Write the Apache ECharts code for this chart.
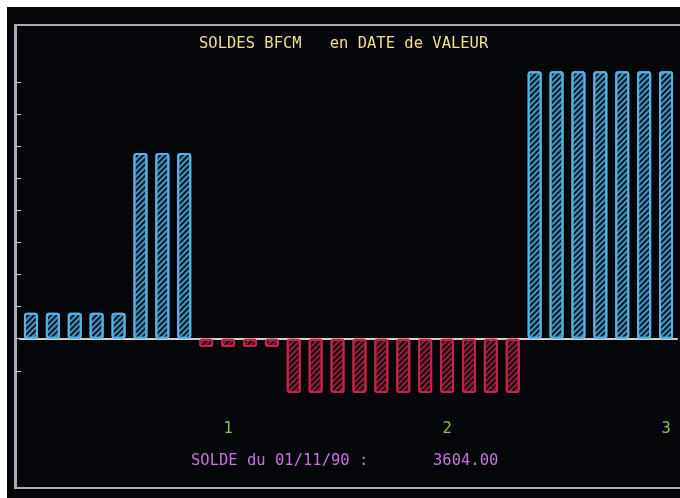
<!DOCTYPE html>
<html>
<head>
<meta charset="utf-8">
<script src="https://cdn.jsdelivr.net/npm/echarts@6/dist/echarts.min.js"></script>
<style>
  html, body { margin: 0; padding: 0; background: #ffffff; }
  #chart { width: 680px; height: 498px; }
</style>
</head>
<body>
<div id="chart"></div>
<script>
// days of the month, one bar per day
const days = ['1', '2', '3', '4', '5', '6', '7', '8', '9', '10',
  '11', '12', '13', '14', '15', '16', '17', '18', '19', '20',
  '21', '22', '23', '24', '25', '26', '27', '28', '29', '30']
// balance per day (francs)
const soldes = [810, 810, 810, 810, 810, 5780, 5780, 5780,
  -260, -260, -260, -260,
  -1690, -1690, -1690, -1690, -1690, -1690, -1690, -1690, -1690, -1690, -1690,
  8330, 8330, 8330, 8330, 8330, 8330, 8330]
// labels under every tenth day
const xTickLabels = ['1', '2', '3']
const yTicks = [-1000, 0, 1000, 2000, 3000, 4000, 5000, 6000, 7000, 8000]
const titleText = 'SOLDES BFCM   en DATE de VALEUR'
const soldeDate = '01/11/90'
const soldeValue = '3604.00'

const credits = soldes.map(v => (v >= 0 ? v : '-'))
const debits = soldes.map(v => (v < 0 ? v : '-'))

const FONT = '"DejaVu Sans Mono", monospace'

const hatch = (color) => ({
  symbol: 'rect',
  symbolSize: 1,
  color,
  dashArrayX: [1, 0],
  dashArrayY: [2, 2],
  rotation: -Math.PI / 4
})

const textStyle = (color) => ({ color, fontFamily: FONT, fontSize: 15.5, fontWeight: 'normal' })

const chart = echarts.init(document.getElementById('chart'))
chart.setOption({
  backgroundColor: '#05060a',
  animation: false,
  title: [
    { text: titleText, left: 199, top: 36, padding: 0, textStyle: textStyle('#f2df8c') },
    { text: 'SOLDE du ' + soldeDate + ' :', left: 191, top: 453, padding: 0, textStyle: textStyle('#c674dc') },
    { text: soldeValue, left: 433, top: 453, padding: 0, textStyle: textStyle('#c674dc') }
  ],
  graphic: [
    { type: 'rect', z: -10, shape: { x: 0, y: 0, width: 7, height: 498 }, style: { fill: '#ffffff' } },
    { type: 'rect', z: -10, shape: { x: 0, y: 0, width: 680, height: 7 }, style: { fill: '#ffffff' } },
    {
      type: 'rect', z: -5,
      shape: { x: 15, y: 25, width: 700, height: 463 },
      style: { fill: 'none', stroke: '#a9abb8', lineWidth: 2 }
    }
  ],
  grid: { left: 20, right: 3, top: 25, bottom: 11 },
  xAxis: [
    {
      type: 'category',
      data: days,
      axisLine: { onZero: true, lineStyle: { color: '#cfcfcf', width: 2 } },
      axisTick: { show: false },
      axisLabel: { show: false }
    },
    {
      type: 'category',
      data: days,
      position: 'bottom',
      offset: -67,
      axisLine: { show: false, onZero: false },
      axisTick: { show: false },
      axisLabel: {
        margin: 1,
        interval: (i) => (i + 1) % 10 === 0,
        formatter: (v, i) => xTickLabels[(i + 1) / 10 - 1],
        color: '#86c44a',
        fontFamily: FONT,
        fontSize: 15.5
      }
    }
  ],
  yAxis: {
    type: 'value',
    min: -4620,
    max: 9770,
    offset: 4,
    splitLine: { show: false },
    axisLine: { show: true, lineStyle: { color: '#a9abb8', width: 2 } },
    axisTick: { show: true, inside: true, length: 5, customValues: yTicks, lineStyle: { color: '#c8cad4' } },
    axisLabel: { show: false }
  },
  series: [
    {
      name: 'credit',
      type: 'bar',
      stack: 'solde',
      barWidth: 14,
      data: credits,
      itemStyle: {
        color: '#0a1722',
        borderColor: '#55b2e2',
        borderWidth: 2,
        borderRadius: 2,
        decal: hatch('#3f94c2')
      }
    },
    {
      name: 'debit',
      type: 'bar',
      stack: 'solde',
      barWidth: 14,
      data: debits,
      itemStyle: {
        color: '#1a0810',
        borderColor: '#c42446',
        borderWidth: 2,
        borderRadius: 2,
        decal: hatch('#8e1e3a')
      }
    }
  ]
})
</script>
</body>
</html>
